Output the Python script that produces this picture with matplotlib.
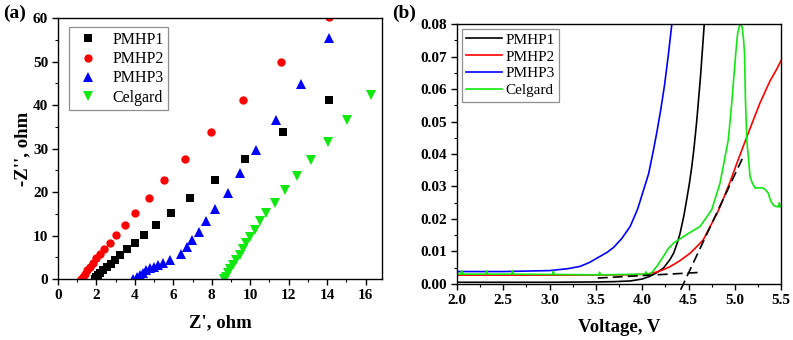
import numpy as np
import matplotlib
matplotlib.use('Agg')
import matplotlib.pyplot as plt
from matplotlib.ticker import MultipleLocator, FormatStrFormatter

plt.rcParams['font.family'] = ['Liberation Serif', 'DejaVu Serif']

# (a) Nyquist data, Z' vs -Z''
p1_x = [1.92, 1.96, 2.06, 2.18, 2.35, 2.53, 2.75, 2.96, 3.22, 3.57, 3.98, 4.47, 5.09, 5.90, 6.89, 8.17, 9.75, 11.72, 14.1]
p1_y = [0, 0.4, 0.9, 1.5, 2.1, 2.9, 3.5, 4.4, 5.5, 6.9, 8.35, 10.2, 12.4, 15.3, 18.7, 22.8, 27.7, 33.8, 41.1]
p2_x = [1.21, 1.28, 1.40, 1.52, 1.66, 1.84, 2.0, 2.18, 2.41, 2.68, 3.03, 3.48, 4.02, 4.71, 5.52, 6.63, 7.95, 9.6, 11.62, 14.1]
p2_y = [0, 0.46, 1.2, 2.0, 2.75, 3.7, 4.75, 5.8, 6.9, 8.35, 10.2, 12.4, 15.3, 18.7, 22.8, 27.7, 33.8, 41.1, 49.8, 60.2]
p3_x = [3.91, 4.09, 4.26, 4.43, 4.6, 4.78, 4.99, 5.21, 5.47, 5.82, 6.42, 6.72, 6.99, 7.32, 7.72, 8.19, 8.83, 9.49, 10.3, 11.34, 12.62, 14.1]
p3_y = [0, 0.46, 0.9, 1.5, 2.0, 2.45, 2.9, 3.3, 3.7, 4.3, 5.8, 7.4, 8.9, 10.8, 13.3, 16.1, 19.8, 24.4, 29.7, 36.5, 44.9, 55.4]
cg_x = [8.62, 8.73, 8.85, 8.97, 9.1, 9.28, 9.45, 9.63, 9.8, 9.97, 10.23, 10.49, 10.84, 11.29, 11.81, 12.43, 13.18, 14.04, 15.05, 16.26]
cg_y = [0, 0.6, 1.4, 2.3, 3.3, 4.4, 5.6, 6.9, 8.3, 9.7, 11.3, 13.3, 15.3, 17.6, 20.4, 23.6, 27.3, 31.6, 36.6, 42.4]

# (b) LSV data, voltage vs current
v1 = [2.0, 3.0, 3.5, 3.7, 3.87, 4.0, 4.08, 4.16, 4.23, 4.30, 4.34, 4.38, 4.41, 4.45, 4.48, 4.51,
      4.535, 4.56, 4.59, 4.63, 4.67]
i1 = [0.0005, 0.0005, 0.0006, 0.0007, 0.0009, 0.0015, 0.0023, 0.0035, 0.0049, 0.0075, 0.0095, 0.0127, 0.0157, 0.021, 0.0259, 0.031,
      0.036, 0.042, 0.0505, 0.064, 0.080]
v2 = [2.0, 3.0, 3.87, 4.05, 4.15, 4.23, 4.3, 4.4, 4.52, 4.6, 4.66, 4.73, 4.81, 4.88, 4.95, 5.02,
      5.09, 5.18, 5.27, 5.38, 5.45, 5.5]
i2 = [0.0027, 0.0027, 0.0028, 0.0030, 0.0036, 0.0044, 0.0053, 0.0070, 0.0095, 0.0118, 0.0136, 0.0175, 0.0218, 0.0265, 0.0315, 0.037,
      0.0423, 0.049, 0.0556, 0.0625, 0.066, 0.0688]
v3 = [2.0, 2.5, 3.0, 3.2, 3.33, 3.43, 3.54, 3.62, 3.69, 3.78, 3.87, 3.95, 4.01, 4.07, 4.12, 4.16,
      4.20, 4.24, 4.28, 4.32]
i3 = [0.0038, 0.0038, 0.0041, 0.0047, 0.0054, 0.0066, 0.0084, 0.0097, 0.0112, 0.0140, 0.0177, 0.023, 0.0285, 0.034, 0.041, 0.047,
      0.0536, 0.061, 0.070, 0.080]
vc = [2.0, 2.04, 2.05, 2.06, 2.31, 2.32, 2.33, 2.59, 2.60, 2.61, 3.03, 3.04, 3.05, 3.53, 3.54, 3.55,
      3.8, 4.03, 4.04, 4.05, 4.10, 4.16, 4.23, 4.28, 4.34, 4.48, 4.625, 4.75, 4.84, 4.93, 4.97,
      5.01, 5.03, 5.05, 5.065, 5.08, 5.095, 5.105, 5.115, 5.13, 5.15, 5.165, 5.19, 5.22, 5.25,
      5.3, 5.33, 5.36, 5.39, 5.42, 5.44, 5.47, 5.48, 5.49, 5.5]
ic = [0.0030, 0.0030, 0.0041, 0.0030, 0.0030, 0.0040, 0.0030, 0.0030, 0.0040, 0.0030, 0.0029, 0.0039, 0.0029, 0.0028, 0.0036, 0.0028,
      0.0029, 0.0030, 0.0037, 0.0030, 0.0033, 0.0055, 0.0085, 0.0108, 0.0126, 0.0152, 0.0177, 0.0228, 0.031, 0.0444, 0.0567,
      0.071, 0.077, 0.0795, 0.080, 0.079, 0.075, 0.071, 0.0567, 0.044, 0.038, 0.033, 0.031, 0.0295, 0.0296,
      0.0296, 0.029, 0.028, 0.0254, 0.0242, 0.0239, 0.0237, 0.025, 0.0237, 0.024]
# tangent lines (onset estimate)
base_v = [3.52, 4.6]
base_i = [0.0018, 0.0035]
tan_v = [4.415, 5.08]
tan_i = [-0.0018, 0.0385]

names = ['PMHP1', 'PMHP2', 'PMHP3', 'Celgard']
green = '#10e810'

fig = plt.figure(figsize=(7.93, 3.4), dpi=100)
ax1 = fig.add_axes([0.0731, 0.179, 0.4086, 0.768])
ax2 = fig.add_axes([0.5763, 0.165, 0.4087, 0.764])

ms = 6
ax1.plot(p1_x, p1_y, 's', color='black', ms=ms, mew=0, label=names[0])
ax1.plot(p2_x, p2_y, 'o', color='red', ms=ms, mew=0, label=names[1])
ax1.plot(p3_x, p3_y, '^', color='blue', ms=ms + 1, mew=0, label=names[2])
ax1.plot(cg_x, cg_y, 'v', color=green, ms=ms + 1, mew=0, label=names[3])
ax1.set_xlim(0, 16.85)
ax1.set_ylim(0, 60)
ax1.xaxis.set_major_locator(MultipleLocator(2))
ax1.xaxis.set_minor_locator(MultipleLocator(1))
ax1.yaxis.set_major_locator(MultipleLocator(10))
ax1.yaxis.set_minor_locator(MultipleLocator(5))
ax1.set_xlabel("Z', ohm", fontsize=13.5, fontweight='bold', labelpad=9)
ax1.set_ylabel("-Z'', ohm", fontsize=13.5, fontweight='bold', labelpad=1)
leg1 = ax1.legend(loc='upper left', bbox_to_anchor=(0.034, 0.965), borderaxespad=0, fontsize=11.5,
                  frameon=True, fancybox=False, edgecolor='0.45', handletextpad=0.6, borderpad=0.3,
                  labelspacing=0.2, handlelength=1.8)
leg1.get_frame().set_linewidth(0.9)

ax2.plot(v1, i1, color='black', lw=1.2, label=names[0])
ax2.plot(v2, i2, color='red', lw=1.2, label=names[1])
ax2.plot(v3, i3, color='blue', lw=1.2, label=names[2])
ax2.plot(vc, ic, color=green, lw=1.2, label=names[3])
ax2.plot(base_v, base_i, '--', color='black', lw=1.2, dashes=(6, 3))
ax2.plot(tan_v, tan_i, '--', color='black', lw=1.2, dashes=(6, 3), clip_on=False)
ax2.set_xlim(2.0, 5.5)
ax2.set_ylim(0, 0.08)
ax2.xaxis.set_major_locator(MultipleLocator(0.5))
ax2.xaxis.set_minor_locator(MultipleLocator(0.25))
ax2.yaxis.set_major_locator(MultipleLocator(0.01))
ax2.yaxis.set_minor_locator(MultipleLocator(0.005))
ax2.xaxis.set_major_formatter(FormatStrFormatter('%.1f'))
ax2.yaxis.set_major_formatter(FormatStrFormatter('%.2f'))
ax2.set_xlabel('Voltage, V', fontsize=13.5, fontweight='bold', labelpad=9)
leg2 = ax2.legend(loc='upper left', bbox_to_anchor=(0.014, 0.983), borderaxespad=0, fontsize=11,
                  frameon=True, fancybox=False, edgecolor='0.45', handletextpad=0.2, borderpad=0.3,
                  labelspacing=0.2, handlelength=2.35)
leg2.get_frame().set_linewidth(0.9)

for ax in (ax1, ax2):
    for sp in ax.spines.values():
        sp.set_linewidth(1.0)
    ax.tick_params(which='major', direction='out', length=4, width=1.0, labelsize=11, pad=3)
    ax.tick_params(which='minor', direction='out', length=2.5, width=0.8)
    ax.tick_params(top=False, right=False)
    for lab in ax.get_xticklabels() + ax.get_yticklabels():
        lab.set_fontweight('bold')

fig.text(0.004, 0.962, '(a)', fontsize=14, fontweight='bold', va='center', ha='left')
fig.text(0.494, 0.962, '(b)', fontsize=14, fontweight='bold', va='center', ha='left')

fig.savefig('out.png', dpi=100)
